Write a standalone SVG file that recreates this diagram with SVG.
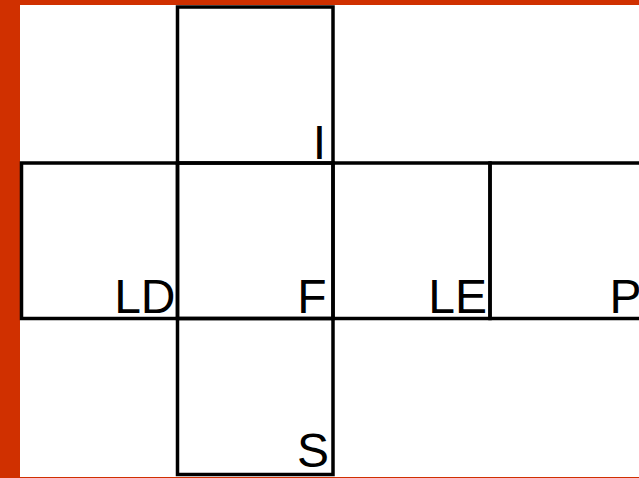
<svg xmlns="http://www.w3.org/2000/svg" width="639" height="478" viewBox="0 0 639 478">
<style>
.face{fill:none;stroke:#000;stroke-width:3.5}
.lbl{font-family:"Liberation Sans",Arial,sans-serif;font-size:48px;fill:#000;text-anchor:end}
</style>
<rect x="0" y="0" width="639" height="478" fill="#d03000"/>
<rect x="20" y="5" width="619" height="472" fill="#fff"/>
<g id="I"><rect class="face" x="177.5" y="7" width="155.5" height="156"/><text class="lbl" x="326" y="159">I</text></g>
<g id="LD"><rect class="face" x="21.5" y="163" width="156" height="155.5"/><text class="lbl" x="175.5" y="313">LD</text></g>
<g id="F"><rect class="face" x="177.5" y="163" width="155.5" height="155.5"/><text class="lbl" x="326.5" y="313">F</text></g>
<g id="LE"><rect class="face" x="333" y="163" width="157" height="155.5"/><text class="lbl" x="487" y="313">LE</text></g>
<g id="P"><rect class="face" x="490" y="163" width="156" height="155.5"/><text class="lbl" x="609.6" y="313" style="text-anchor:start">P</text></g>
<g id="S"><rect class="face" x="177.5" y="318.5" width="155.5" height="156"/><text class="lbl" x="329" y="467">S</text></g>
<g id="connectors"/>
</svg>
